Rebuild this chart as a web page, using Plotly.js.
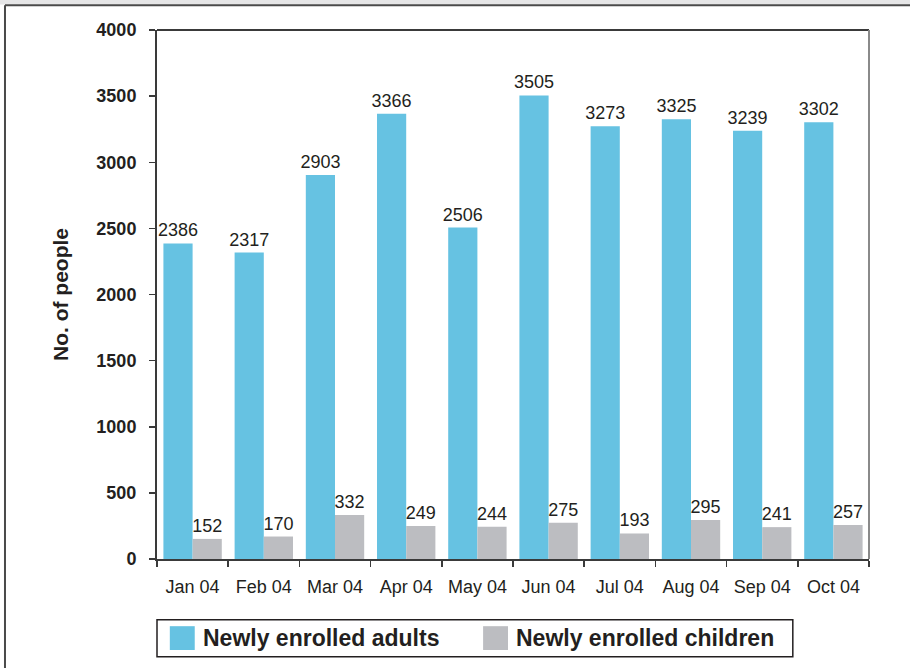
<!DOCTYPE html>
<html>
<head>
<meta charset="utf-8">
<script src="https://cdn.plot.ly/plotly-3.0.1.min.js"></script>
<style>html,body{margin:0;padding:0;background:#fff;}#chart{width:910px;height:668px;}</style>
</head>
<body>
<div id="chart"></div>
<script>
const months = ["Jan 04","Feb 04","Mar 04","Apr 04","May 04","Jun 04","Jul 04","Aug 04","Sep 04","Oct 04"];
const adults = [2386,2317,2903,3366,2506,3505,3273,3325,3239,3302];
const children = [152,170,332,249,244,275,193,295,241,257];
const seriesNames = ["Newly enrolled adults","Newly enrolled children"];
const colors = ["#66c2e2","#bcbdc1"];
const yTicks = [0,500,1000,1500,2000,2500,3000,3500,4000];

const txtFont = {family:"Liberation Sans, Arial, sans-serif", size:18, color:"#231f20"};
const traces = [adults, children].map((vals,i)=>({
  type:"bar", x:months, y:vals, name:seriesNames[i],
  marker:{color:colors[i], line:{width:0}},
  text:vals.map(String), textposition:"outside", cliponaxis:false, constraintext:"none",
  textfont:txtFont, showlegend:false, hoverinfo:"skip"
}));

const legendShapes = [
  {type:"rect", xref:"paper", yref:"paper", x0:0, x1:0.893, y0:-0.185, y1:-0.115, line:{color:"#231f20", width:1.5}, fillcolor:"#fff"},
  {type:"rect", xref:"paper", yref:"paper", x0:0.018, x1:0.053, y0:-0.172, y1:-0.127, line:{width:0}, fillcolor:colors[0]},
  {type:"rect", xref:"paper", yref:"paper", x0:0.458, x1:0.493, y0:-0.172, y1:-0.127, line:{width:0}, fillcolor:colors[1]},
  // page frame
  {type:"rect", xref:"paper", yref:"paper", x0:-0.3, x1:1.1, y0:1.048, y1:1.2, line:{width:0}, fillcolor:"#e6e6e7", layer:"below"},
  {type:"line", xref:"paper", yref:"paper", x0:-0.2135, x1:1.06, y0:1.047, y1:1.047, line:{color:"#4a4a4a", width:2}},
  {type:"line", xref:"paper", yref:"paper", x0:-0.2135, x1:-0.2135, y0:1.047, y1:-0.22, line:{color:"#4a4a4a", width:2}}
];
const legendFont = {family:"Liberation Sans, Arial, sans-serif", size:23, color:"#231f20"};
const annotations = [
  {xref:"paper", yref:"paper", x:0.062, y:-0.1495, xanchor:"left", yanchor:"middle", showarrow:false, text:"<b>"+seriesNames[0]+"</b>", font:legendFont},
  {xref:"paper", yref:"paper", x:0.502, y:-0.1495, xanchor:"left", yanchor:"middle", showarrow:false, text:"<b>"+seriesNames[1]+"</b>", font:legendFont}
];

const layout = {
  width:910, height:668,
  margin:{l:157, r:41, t:30, b:109},
  paper_bgcolor:"#fff", plot_bgcolor:"#fff",
  barmode:"group", bargap:0.18, bargroupgap:0,
  showlegend:false,
  xaxis:{
    tickmode:"array", tickvals:months, ticktext:months,
    tickson:"boundaries", ticks:"outside", ticklen:6, tickwidth:1.5, tickcolor:"#3a3a3a",
    showline:true, linecolor:"#3a3a3a", linewidth:2, mirror:false,
    showgrid:false, zeroline:false, ticklabelstandoff:10,
    tickfont:{family:"Liberation Sans, Arial, sans-serif", size:18, color:"#231f20"},
    fixedrange:true
  },
  yaxis:{
    range:[0,4000], tickmode:"array", tickvals:yTicks, ticktext:yTicks.map(String),
    ticks:"outside", ticklen:6, tickwidth:1.5, tickcolor:"#3a3a3a",
    showline:true, linecolor:"#3a3a3a", linewidth:2, mirror:false,
    showgrid:false, zeroline:false, ticklabelstandoff:9,
    tickfont:{family:"Liberation Sans, Arial, sans-serif", size:18, color:"#231f20", weight:"bold"},
    title:{text:"<b>No. of people</b>", font:{family:"Liberation Sans, Arial, sans-serif", size:21, color:"#231f20"}, standoff:22},
    fixedrange:true
  },
  shapes: legendShapes.concat([
    {type:"line", xref:"paper", yref:"paper", x0:0, x1:1, y0:1, y1:1, line:{color:"#3a3a3a", width:2}},
    {type:"line", xref:"paper", yref:"paper", x0:1, x1:1, y0:0, y1:1, line:{color:"#8a8a8a", width:2}}
  ]),
  annotations: annotations
};
Plotly.newPlot("chart", traces, layout, {displayModeBar:false, staticPlot:true});
</script>
</body>
</html>
